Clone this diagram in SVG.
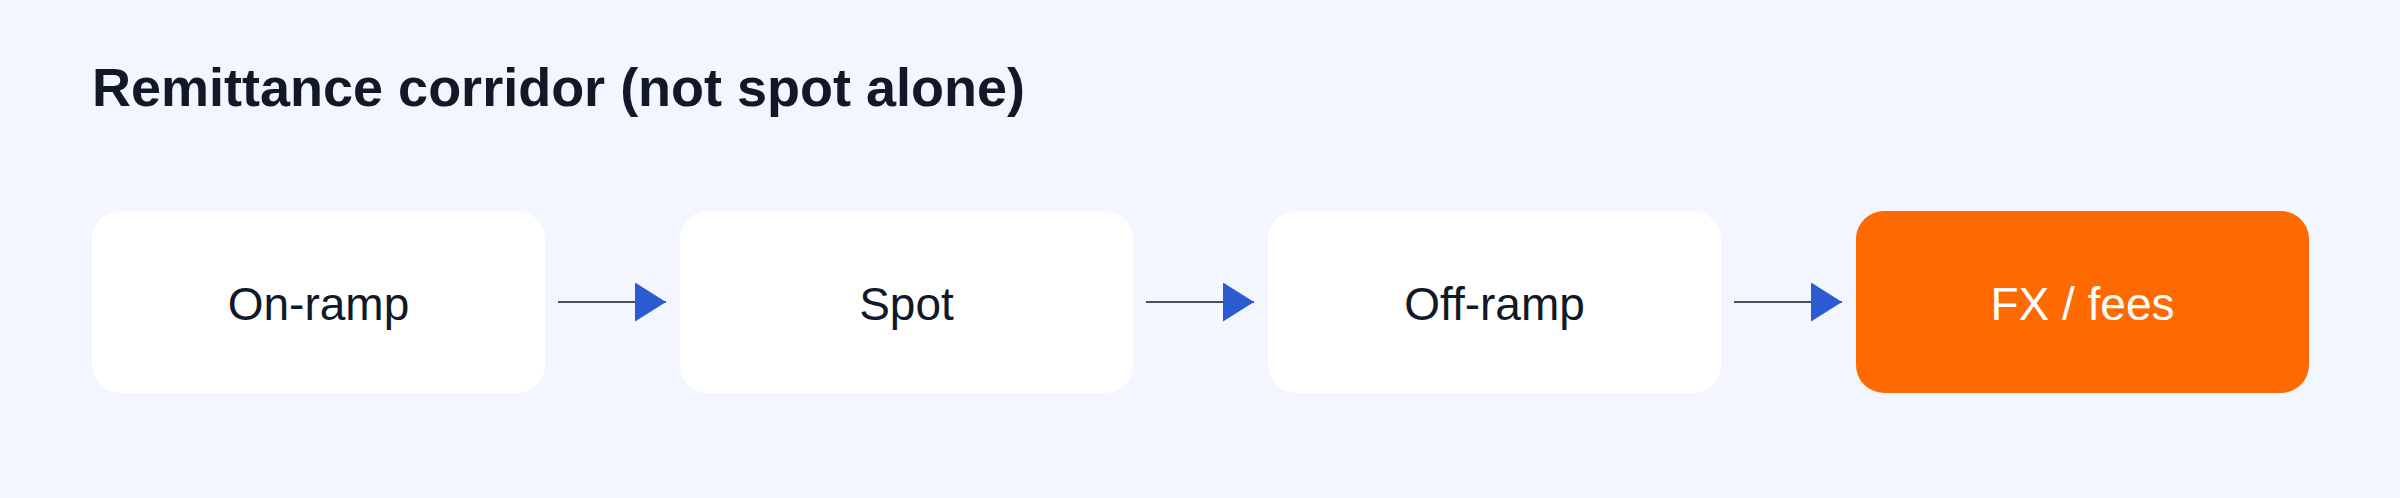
<svg xmlns="http://www.w3.org/2000/svg" width="2400" height="498" viewBox="0 0 2400 498">
  <style>
    .title { font-family: "Liberation Sans", Arial, sans-serif; font-weight: bold; font-size: 54px; fill: #111827; }
    .box { fill: #ffffff; }
    .box.hl { fill: #ff6a00; }
    .lbl { font-family: "Liberation Sans", Arial, sans-serif; font-size: 46px; fill: #111827; text-anchor: middle; }
    .lbl.hl { fill: #ffffff; }
    .conn { stroke: #111827; stroke-width: 1.6; fill: none; }
  </style>
  <defs>
    <marker id="arrow" viewBox="0 0 31 39" refX="31" refY="19.5" markerWidth="31" markerHeight="39" markerUnits="userSpaceOnUse" orient="auto">
      <path d="M0,0 L31,19.5 L0,39 Z" fill="#2a5bd0"/>
    </marker>
  </defs>
  <rect width="2400" height="498" fill="#f3f6fe"/>
  <text class="title" x="92" y="106">Remittance corridor (not spot alone)</text>
  <g id="connectors">
    <line class="conn" x1="558" y1="302" x2="666" y2="302" marker-end="url(#arrow)"/>
    <line class="conn" x1="1146" y1="302" x2="1254" y2="302" marker-end="url(#arrow)"/>
    <line class="conn" x1="1734" y1="302" x2="1842" y2="302" marker-end="url(#arrow)"/>
  </g>
  <g id="node-onramp">
    <rect class="box" x="92" y="211" width="453" height="182" rx="28"/>
    <text class="lbl" x="318.5" y="320">On-ramp</text>
  </g>
  <g id="node-spot">
    <rect class="box" x="680" y="211" width="453" height="182" rx="28"/>
    <text class="lbl" x="906.5" y="320">Spot</text>
  </g>
  <g id="node-offramp">
    <rect class="box" x="1268" y="211" width="453" height="182" rx="28"/>
    <text class="lbl" x="1494.5" y="320">Off-ramp</text>
  </g>
  <g id="node-fx">
    <rect class="box hl" x="1856" y="211" width="453" height="182" rx="28"/>
    <text class="lbl hl" x="2082.5" y="320">FX / fees</text>
  </g>
</svg>
